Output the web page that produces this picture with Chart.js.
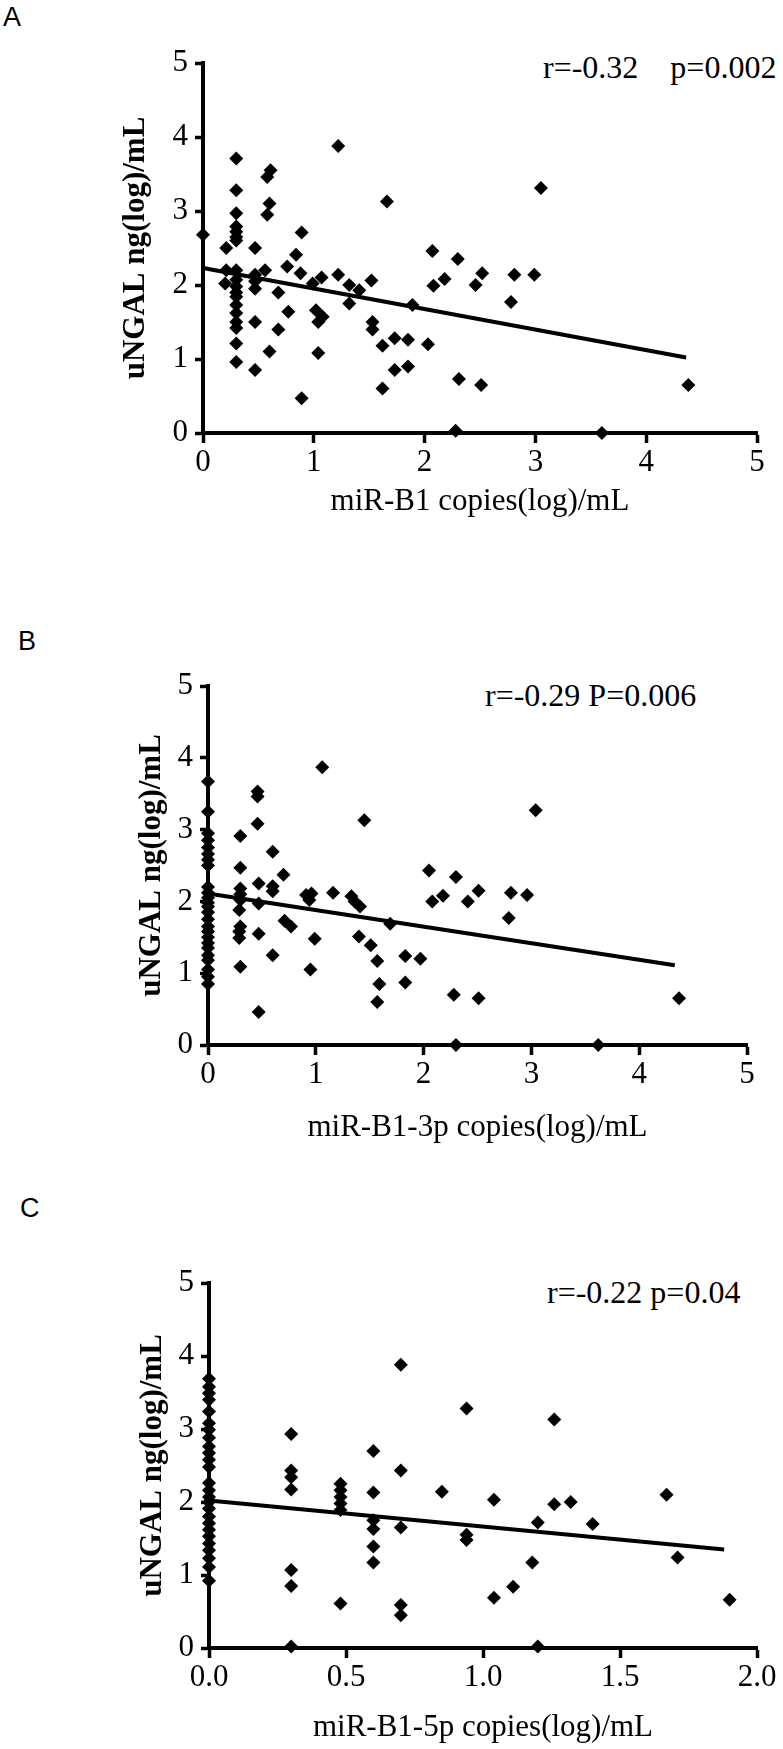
<!DOCTYPE html>
<html>
<head>
<meta charset="utf-8">
<script src="https://cdn.jsdelivr.net/npm/chart.js@4.4.1/dist/chart.umd.min.js"></script>
<style>
  html, body { margin: 0; padding: 0; background: #fff; }
  body { width: 783px; height: 1749px; position: relative; overflow: hidden; }
  .pane { position: absolute; left: 0; }
  .lbl { position: absolute; font: 27px/1 "Liberation Sans", Arial, sans-serif; color: #000; }
  .stat { position: absolute; font: 32px/1 "Liberation Serif", "Times New Roman", serif; color: #000; white-space: pre; }
</style>
</head>
<body>
<div class="lbl" style="left:3px;top:4px">A</div>
<div class="lbl" style="left:18px;top:628px">B</div>
<div class="lbl" style="left:20px;top:1195px">C</div>
<div class="stat" style="left:543px;top:51px">r=-0.32    p=0.002</div>
<div class="stat" style="left:485px;top:679px">r=-0.29 P=0.006</div>
<div class="stat" style="left:547px;top:1276px">r=-0.22 p=0.04</div>
<canvas id="cA" class="pane" style="top:0px" width="783" height="530"></canvas>
<canvas id="cB" class="pane" style="top:560px" width="783" height="600"></canvas>
<canvas id="cC" class="pane" style="top:1160px" width="783" height="589"></canvas>
<script>
  "use strict";
  const SERIF = "'Liberation Serif', 'Times New Roman', serif";

  // tick values
  const X_TICKS_AB = [0, 1, 2, 3, 4, 5];
  const X_TICKS_C = [0, 0.5, 1, 1.5, 2];
  const Y_TICKS = [0, 1, 2, 3, 4, 5];
  const Y_TITLE = "uNGAL ng(log)/mL";

  // A — miR-B1
  const aX = [0, 0.21, 0.21, 0.20,
    0.30, 0.30, 0.30, 0.30, 0.30, 0.30, 0.30, 0.30, 0.30, 0.30, 0.30, 0.30, 0.30, 0.30, 0.30, 0.30, 0.30, 0.30,
    0.47, 0.47, 0.47, 0.47, 0.47, 0.47,
    0.56, 0.58, 0.61, 0.60, 0.58, 0.68, 0.68, 0.60, 0.76, 0.77, 0.84, 0.89, 0.88, 0.89,
    0.99, 1.07, 1.02, 1.04, 1.08, 1.04, 1.22, 1.22, 1.32, 1.41, 1.32,
    1.52, 1.53, 1.53, 1.62, 1.73, 1.85, 1.62, 1.73, 1.85, 1.66, 1.89,
    2.03, 2.07, 2.08, 2.18, 2.30, 2.31, 2.28, 2.52, 2.46, 2.81, 2.99, 2.78, 3.05, 2.51, 4.38, 3.60];
  const aY = [2.68, 2.50, 2.20, 2.02,
    3.71, 3.28, 2.97, 2.79, 2.72, 2.65, 2.60, 2.20, 2.07, 1.98, 1.90, 1.84, 1.73, 1.62, 1.50, 1.42, 1.21, 0.96,
    2.50, 2.14, 2.05, 1.95, 1.50, 0.85,
    2.20, 3.46, 3.55, 3.10, 2.95, 1.90, 1.40, 1.10, 2.25, 1.64, 2.41, 2.71, 2.16, 0.47,
    2.02, 2.10, 1.66, 1.50, 1.57, 1.08, 3.88, 2.14, 2.00, 1.93, 1.75,
    2.06, 1.50, 1.40, 1.18, 1.28, 1.26, 0.60, 0.85, 0.90, 3.13, 1.73,
    1.20, 2.46, 1.99, 2.08, 2.35, 0.73, 0.03, 2.16, 2.00, 2.14, 2.14, 1.77, 3.31, 0.65, 0.65, 0.00];
  const aFitX = [0, 4.36];
  const aFitY = [2.23, 1.02];

  // B — miR-B1-3p
  const bX = [0, 0, 0, 0, 0, 0, 0, 0, 0, 0, 0, 0, 0, 0, 0, 0, 0, 0, 0, 0, 0, 0, 0, 0, 0,
    0.30, 0.30, 0.30, 0.30, 0.30, 0.29, 0.30, 0.29, 0.29, 0.30,
    0.46, 0.46, 0.46, 0.47, 0.47, 0.47, 0.47,
    0.60, 0.60, 0.60, 0.60, 0.70, 0.71, 0.77,
    0.91, 0.96, 0.94, 0.99, 0.95, 1.06, 1.16, 1.33, 1.36, 1.41, 1.45, 1.40,
    1.51, 1.57, 1.59, 1.57, 1.69, 1.83, 1.83, 1.97,
    2.05, 2.08, 2.18, 2.30, 2.41, 2.28, 2.51, 2.81, 2.96, 2.79, 3.04, 2.51, 4.37, 2.30, 3.62];
  const bY = [3.67, 3.25, 2.95, 2.85, 2.75, 2.66, 2.58, 2.50, 2.20, 2.12, 2.05, 1.98, 1.93, 1.85, 1.75, 1.65, 1.58, 1.50, 1.42, 1.35, 1.25, 1.18, 1.05, 0.95, 0.85,
    2.91, 2.47, 2.18, 2.10, 2.02, 1.88, 1.65, 1.58, 1.49, 1.09,
    3.53, 3.46, 3.08, 2.25, 1.97, 1.55, 0.46,
    2.69, 2.21, 2.14, 1.25, 2.37, 1.73, 1.65,
    2.09, 2.11, 2.02, 1.48, 1.05, 3.87, 2.12, 2.07, 2.00, 1.93, 3.13, 1.51,
    1.39, 1.17, 0.85, 0.60, 1.69, 1.24, 0.87, 1.20,
    2.43, 2.00, 2.08, 2.34, 2.00, 0.70, 2.15, 2.12, 2.09, 1.77, 3.27, 0.65, 0.65, 0.00, 0.00];
  const bFitX = [0, 4.33];
  const bFitY = [2.11, 1.11];

  // C — miR-B1-5p
  const cX = [0, 0, 0, 0, 0, 0, 0, 0, 0, 0, 0, 0, 0, 0, 0, 0, 0, 0, 0, 0, 0, 0, 0, 0, 0, 0,
    0.30, 0.30, 0.30, 0.30, 0.30, 0.30, 0.30,
    0.48, 0.48, 0.48, 0.48, 0.48, 0.48,
    0.60, 0.60, 0.60, 0.60, 0.60, 0.60,
    0.70, 0.70, 0.70, 0.70, 0.70,
    0.85, 0.94, 0.94, 0.94,
    1.26, 1.04, 1.26, 1.32, 1.20, 1.40, 1.67, 1.71, 1.18, 1.11, 1.04, 1.90, 1.20];
  const cY = [3.69, 3.58, 3.49, 3.40, 3.24, 3.08, 2.99, 2.88, 2.76, 2.67, 2.58, 2.48, 2.26, 2.16, 2.07, 2.00, 1.91, 1.80, 1.71, 1.62, 1.53, 1.43, 1.34, 1.23, 1.11, 0.92,
    2.93, 2.43, 2.34, 2.17, 1.07, 0.85, 0.02,
    2.25, 2.16, 2.07, 1.98, 1.89, 0.61,
    2.70, 2.13, 1.75, 1.63, 1.39, 1.17,
    3.88, 2.43, 1.65, 0.59, 0.45,
    2.14, 3.28, 1.55, 1.48,
    3.13, 2.03, 1.97, 2.00, 1.72, 1.70, 2.10, 1.24, 1.17, 0.84, 0.69, 0.66, 0.02];
  const cFitX = [0, 1.88];
  const cFitY = [2.02, 1.35];

  function panel(id, o) {
    const pts = o.x.map((v, i) => ({ x: v, y: o.y[i] }));
    const fit = o.fitX.map((v, i) => ({ x: v, y: o.fitY[i] }));
    const H = document.getElementById(id).height;
    return new Chart(document.getElementById(id), {
      type: "scatter",
      data: { datasets: [
        { data: fit, showLine: true, borderColor: "#000", borderWidth: 4, pointRadius: 0, clip: false },
        { data: pts, pointStyle: "rectRot", pointRadius: 7, backgroundColor: "#000", borderWidth: 0, clip: false }
      ] },
      options: {
        responsive: false, animation: false, events: [],
        layout: { padding: { left: 0, top: o.top, right: o.right, bottom: 0 } },
        plugins: { legend: { display: false }, tooltip: { enabled: false } },
        scales: {
          x: {
            type: "linear", min: o.xTicks[0], max: o.xTicks[o.xTicks.length - 1],
            afterBuildTicks: s => { s.ticks = o.xTicks.map(v => ({ value: v })); },
            afterFit: s => { s.height = H - o.bottom; },
            grid: { drawOnChartArea: false, drawTicks: true, tickLength: 10, tickWidth: 3.5, color: "#000" },
            border: { display: true, color: "#000", width: 4 },
            ticks: { color: "#000", padding: 1, maxRotation: 0, autoSkip: false, font: { family: SERIF, size: 31 }, callback: v => o.fmt(v) },
            title: { display: true, text: o.xTitle, color: "#000", font: { family: SERIF, size: 31 }, padding: { top: 0, bottom: H - o.xTitleY - 18.6 } }
          },
          y: {
            type: "linear", min: 0, max: 5,
            afterBuildTicks: s => { s.ticks = Y_TICKS.map(v => ({ value: v })); },
            afterFit: s => { s.width = o.left; },
            grid: { drawOnChartArea: false, drawTicks: true, tickLength: 8, tickWidth: 3.5, color: "#000" },
            border: { display: true, color: "#000", width: 4 },
            ticks: { color: "#000", padding: 7, font: { family: SERIF, size: 31 }, callback: v => String(v) },
            title: { display: true, text: Y_TITLE, color: "#000", font: { family: SERIF, size: 31, weight: "bold" }, padding: { top: o.yTitleX - 18.6, bottom: 0 } }
          }
        }
      }
    });
  }

  panel("cA", { x: aX, y: aY, fitX: aFitX, fitY: aFitY, xTicks: X_TICKS_AB, fmt: v => String(v),
    xTitle: "miR-B1 copies(log)/mL", left: 203, right: 26, top: 63, bottom: 433, xTitleY: 502, yTitleX: 136 });
  panel("cB", { x: bX, y: bY, fitX: bFitX, fitY: bFitY, xTicks: X_TICKS_AB, fmt: v => String(v),
    xTitle: "miR-B1-3p copies(log)/mL", left: 208, right: 36, top: 126, bottom: 485, xTitleY: 568, yTitleX: 152 });
  panel("cC", { x: cX, y: cY, fitX: cFitX, fitY: cFitY, xTicks: X_TICKS_C, fmt: v => v.toFixed(1),
    xTitle: "miR-B1-5p copies(log)/mL", left: 209, right: 26, top: 123, bottom: 488, xTitleY: 568, yTitleX: 153 });
</script>
</body>
</html>
